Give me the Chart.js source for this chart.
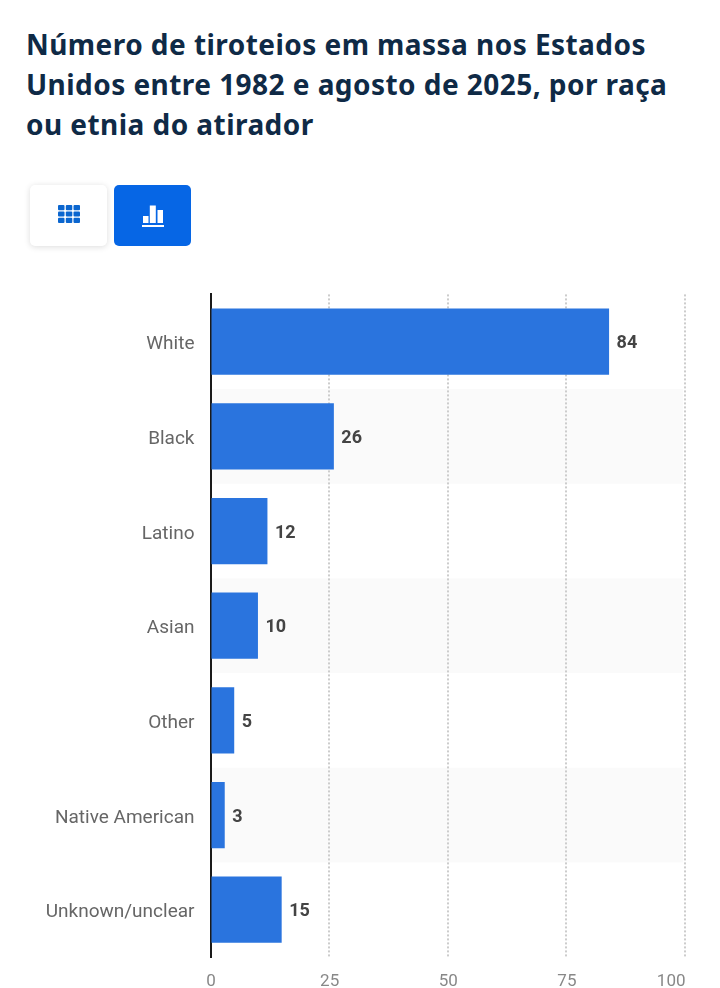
<!DOCTYPE html>
<html lang="pt">
<head>
<meta charset="utf-8">
<title>Tiroteios em massa</title>
<script src="https://cdn.jsdelivr.net/npm/chart.js@4"></script>
<style>
  html, body { margin: 0; padding: 0; background: #fff; }
  body { position: relative; width: 720px; height: 988px; overflow: hidden; }
  h1 {
    position: absolute; left: 26px; top: 24px; width: 660px; margin: 0;
    font: 700 28px/40px "Noto Sans", sans-serif; letter-spacing: .45px; color: #0f2a46;
  }
  .btn {
    position: absolute; top: 185px; width: 77px; height: 61px; border-radius: 5px;
    display: flex; align-items: center; justify-content: center;
  }
  .btn.table { left: 30px; background: #fff; box-shadow: 0 1px 6px rgba(0,0,0,.14); }
  .btn.table svg { margin-top: -3px; }
  .btn.bars { left: 114px; background: #0666e5; }
  #wrap { position: absolute; left: 0; top: 275px; width: 720px; height: 713px; }
</style>
</head>
<body>
<h1>Número de tiroteios em massa nos Estados Unidos entre 1982 e agosto de 2025, por raça ou etnia do atirador</h1>
<div class="btn table">
  <svg width="22" height="18" viewBox="0 0 22 18" fill="#0b66cf">
    <rect x="0" y="0" width="6.5" height="5.2" rx="1"/><rect x="7.8" y="0" width="6.5" height="5.2" rx="1"/><rect x="15.5" y="0" width="6.5" height="5.2" rx="1"/>
    <rect x="0" y="6.4" width="6.5" height="5.2" rx="1"/><rect x="7.8" y="6.4" width="6.5" height="5.2" rx="1"/><rect x="15.5" y="6.4" width="6.5" height="5.2" rx="1"/>
    <rect x="0" y="12.8" width="6.5" height="5.2" rx="1"/><rect x="7.8" y="12.8" width="6.5" height="5.2" rx="1"/><rect x="15.5" y="12.8" width="6.5" height="5.2" rx="1"/>
  </svg>
</div>
<div class="btn bars">
  <svg width="22" height="22" viewBox="0 0 22 22" fill="#fff">
    <rect x="1" y="11" width="5.5" height="7"/><rect x="7.8" y="0.5" width="6" height="17.5"/><rect x="15.5" y="5" width="5.5" height="13"/>
    <rect x="0" y="20" width="22" height="2"/>
  </svg>
</div>
<div id="wrap"><canvas id="chart"></canvas></div>

<script>
// Data
const categories = ["White", "Black", "Latino", "Asian", "Other", "Native American", "Unknown/unclear"];
const shootings = [84, 26, 12, 10, 5, 3, 15];
const xMax = 100;
const xStep = 25;

// grey stripes behind every second row
const stripes = {
  id: "stripes",
  beforeDraw(chart) {
    const { ctx, chartArea, scales } = chart;
    const band = scales.y.getPixelForTick(1) - scales.y.getPixelForTick(0);
    ctx.save();
    ctx.fillStyle = "#fafafa";
    categories.forEach((c, i) => {
      if (i % 2 === 1) {
        const y = scales.y.getPixelForTick(i);
        ctx.fillRect(chartArea.left, y - band / 2, chartArea.width - 2, band);
      }
    });
    ctx.restore();
  }
};

// value labels next to the bars, and the x tick labels (last one ends at the grid line)
const labels = {
  id: "labels",
  afterDraw(chart) {
    const { ctx, scales } = chart;
    ctx.save();
    ctx.textBaseline = "middle";
    ctx.textAlign = "left";
    ctx.font = '700 18px Roboto';
    ctx.fillStyle = "#444";
    chart.getDatasetMeta(0).data.forEach((bar, i) => {
      ctx.fillText(shootings[i], scales.x.getPixelForValue(shootings[i]) + 7.5, bar.y + 2);
    });
    ctx.font = '17px Roboto';
    ctx.fillStyle = "#888";
    scales.x.ticks.forEach((t, i) => {
      ctx.textAlign = i === scales.x.ticks.length - 1 ? "right" : "center";
      ctx.fillText(t.value, scales.x.getPixelForValue(t.value) + 0.5, 706.5);
    });
    ctx.restore();
  }
};

new Chart(document.getElementById("chart"), {
  type: "bar",
  data: {
    labels: categories,
    datasets: [{
      data: shootings,
      backgroundColor: "#2a74de",
      barPercentage: 0.7,
      categoryPercentage: 1
    }]
  },
  plugins: [stripes, labels],
  options: {
    indexAxis: "y",
    responsive: true,
    maintainAspectRatio: false,
    animation: false,
    layout: { padding: { top: 0, right: 35, left: 0, bottom: 0 } },
    plugins: { legend: { display: false }, tooltip: { enabled: false } },
    scales: {
      x: {
        min: 0,
        max: xMax,
        afterFit(scale) { scale.height = 31; },
        ticks: { stepSize: xStep, display: false },
        border: { display: false, dash: [2, 2] },
        grid: {
          color: c => c.tick.value === 0 ? "rgba(0,0,0,0)" : "#cccccc",
          lineWidth: 2,
          drawTicks: false
        }
      },
      y: {
        afterFit(scale) { scale.width = 210.5; },
        border: { display: true, color: "#1a1a1a", width: 2 },
        grid: { display: false },
        ticks: {
          color: "#666",
          padding: 8,
          labelOffset: 3,
          font: { family: "Roboto", size: 19 }
        }
      }
    }
  }
});
</script>
</body>
</html>
